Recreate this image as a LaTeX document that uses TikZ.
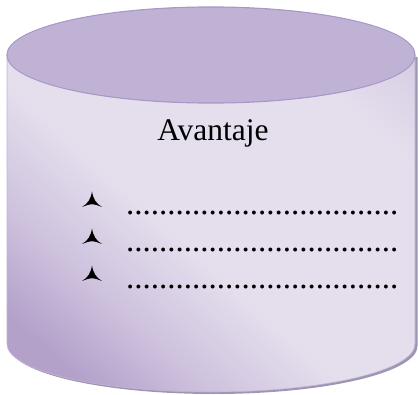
\documentclass[tikz,border=0pt]{standalone}
\usepackage{fontspec}
\setmainfont{Liberation Serif}
\usepackage{tikz}
\definecolor{lilacdark}{HTML}{B3A1CA}
\definecolor{lilacmid}{HTML}{CEC2DE}
\definecolor{lilaclight}{HTML}{E5DFED}
\definecolor{lilacedge}{HTML}{CCC0DD}
\definecolor{lilactop}{HTML}{C0B2D4}
\definecolor{lilacrim}{HTML}{A797C6}
\definecolor{lilacshadow}{HTML}{9E95B3}
\pgfdeclarehorizontalshading{lilacwash}{100bp}{color(0bp)=(lilacdark); color(22bp)=(lilacdark); color(32bp)=(lilacmid); color(44bp)=(lilaclight); color(70bp)=(lilaclight); color(88bp)=(lilacedge); color(100bp)=(lilacedge)}
\tikzset{
  bulletmark/.pic={
    \fill[black] (0,8.5) .. controls (-1.3,1) and (-4,-3.6) .. (-10,-7)
      .. controls (-5,-5) and (-2,-4.2) .. (0,-4.2)
      .. controls (2,-4.2) and (5,-5) .. (10,-7)
      .. controls (4,-3.6) and (1.3,1) .. cycle;
  },
  dotrow/.style={anchor=base west, inner sep=0pt, font=\fontsize{33}{36}\selectfont},
}
\begin{document}
\begin{tikzpicture}[x=1pt, y=1pt]
			%%%%% START %%%%%
			\useasboundingbox (0,0) rectangle (418,394);
			
			% shadow
			\fill[lilacshadow] (9.5,337) -- (9.5,48) arc (180:360:204 and 48) -- (417.5,337) -- cycle;
			
			% body
			\path[shading=lilacwash, shading angle=48]
				(7,339) -- (7,50) arc (180:360:204 and 48) -- (415,339) arc (0:180:204 and 48) -- cycle;
			\draw[line width=0.6pt, color=lilacdark!80] (7,339) -- (7,50) arc (180:360:204 and 48) -- (415,339);
			
			% lid
			\draw[fill=lilactop, line width=1.2pt, color=lilacrim] (211,339) ellipse (204 and 48);
			\fill[lilactop] (211,339) ellipse (203.4 and 47.4);
			
			\node[anchor=base, inner sep=0pt, font=\fontsize{31.5}{36}\selectfont] (title) at (213,253) {Avantaje};
			
			\pic (bul1) at (92,194) {bulletmark};
			\pic (bul2) at (92,157) {bulletmark};
			\pic (bul3) at (92,120) {bulletmark};
			
			\node[dotrow] (row1) at (126,179) {.................................};
			\node[dotrow] (row2) at (126,142) {.................................};
			\node[dotrow] (row3) at (126,105) {.................................};
			
			%%%%% END %%%%%
		\end{tikzpicture}
\end{document}
